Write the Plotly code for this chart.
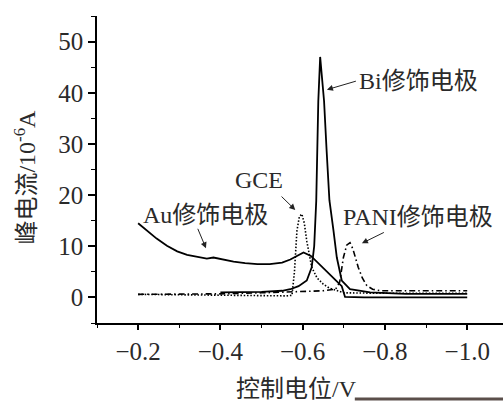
import plotly.graph_objects as go

# ---- data ----
au_x = [-0.2, -0.222, -0.245, -0.27, -0.295, -0.319, -0.345, -0.367, -0.383, -0.4, -0.432,
        -0.46, -0.49, -0.52, -0.55, -0.57, -0.585, -0.602, -0.62, -0.64, -0.66, -0.68,
        -0.695, -0.703, -0.75, -0.85, -1.0]
au_y = [14.5, 13.0, 11.5, 10.1, 9.0, 8.3, 7.9, 7.6, 7.8, 7.5, 7.0,
        6.7, 6.5, 6.5, 6.8, 7.4, 8.1, 8.8, 8.1, 6.6, 4.9, 3.4,
        2.2, 0.1, 0.0, 0.0, 0.0]

bi_x = [-0.4, -0.45, -0.5, -0.55, -0.57, -0.59, -0.61, -0.622, -0.628, -0.633, -0.638,
        -0.6425, -0.647, -0.652, -0.658, -0.665, -0.675, -0.683, -0.695, -0.715, -0.764,
        -0.85, -1.0]
bi_y = [1.0, 1.0, 1.1, 1.3, 1.6, 2.2, 3.3, 5.9, 10.0, 18.9, 38.4,
        47.0, 43.0, 38.4, 29.0, 19.0, 13.0, 7.8, 3.3, 1.6, 1.0,
        0.7, 0.7]

gce_x = [-0.2, -0.3, -0.4, -0.5, -0.56, -0.574, -0.58, -0.586, -0.592, -0.598, -0.604,
         -0.61, -0.616, -0.622, -0.635, -0.65, -0.665, -0.683, -0.7, -0.8, -1.0]
gce_y = [0.6, 0.5, 0.5, 0.4, 0.3, 0.4, 5.0, 13.0, 15.8, 16.3, 14.5,
         11.0, 8.2, 5.9, 3.8, 2.6, 1.8, 1.3, 0.9, 0.8, 0.8]

pani_x = [-0.2, -0.3, -0.4, -0.5, -0.6, -0.65, -0.68, -0.69, -0.699, -0.707, -0.715,
          -0.722, -0.735, -0.745, -0.756, -0.77, -0.79, -0.85, -1.0]
pani_y = [0.6, 0.6, 0.7, 0.9, 1.2, 1.3, 1.6, 3.0, 7.8, 10.2, 10.7,
          9.5, 5.9, 3.8, 2.3, 1.6, 1.3, 1.3, 1.3]

label_text = ["Bi修饰电极", "GCE", "Au修饰电极", "PANI修饰电极"]
label_pos = [(-0.881, 42.2), (-0.494, 23.0), (-0.363, 16.1), (-0.881, 15.8)]
arrow_tail = [(-0.733, 42.35), (-0.545, 20.0), (-0.343, 13.8), (-0.801, 12.84)]
arrow_tip = [(-0.659, 40.6), (-0.582, 17.1), (-0.365, 9.6), (-0.744, 10.58)]

x_ticks = [-0.2, -0.4, -0.6, -0.8, -1.0]
y_ticks = [0, 10, 20, 30, 40, 50]

FONT = "Liberation Serif, Noto Sans CJK SC, serif"
TXT = "#2a2a2a"

fig = go.Figure()
fig.add_trace(go.Scatter(x=au_x, y=au_y, mode="lines", line=dict(color="black", width=1.8)))
fig.add_trace(go.Scatter(x=bi_x, y=bi_y, mode="lines", line=dict(color="black", width=1.8)))
fig.add_trace(go.Scatter(x=gce_x, y=gce_y, mode="lines",
                         line=dict(color="black", width=1.6, dash="1.5px,1.8px")))
fig.add_trace(go.Scatter(x=pani_x, y=pani_y, mode="lines",
                         line=dict(color="black", width=1.6, dash="6px,3px,1.5px,3px")))

ann = []
for t, (lx, ly) in zip(label_text, label_pos):
    ann.append(dict(x=lx, y=ly, xref="x", yref="y", text=t, showarrow=False,
                    font=dict(family=FONT, size=24, color=TXT),
                    xanchor="center", yanchor="middle"))
for (tx, ty), (hx, hy) in zip(arrow_tail, arrow_tip):
    ann.append(dict(x=hx, y=hy, ax=tx, ay=ty, xref="x", yref="y", axref="x", ayref="y",
                    text=" ", font=dict(size=1), showarrow=True, arrowhead=2,
                    arrowsize=1.2, arrowwidth=1,
                    arrowcolor="#222", standoff=0, startstandoff=0))
ann.append(dict(x=-0.177, y=0.474, xref="paper", yref="paper",
                text="峰电流/10<sup>-6</sup>A", textangle=-90, showarrow=False,
                font=dict(family=FONT, size=24, color=TXT),
                xanchor="center", yanchor="middle"))
ann.append(dict(x=0.492, y=-0.215, xref="paper", yref="paper",
                text="控制电位/V", showarrow=False,
                font=dict(family=FONT, size=24, color=TXT),
                xanchor="center", yanchor="middle"))

fig.update_layout(
    width=503, height=402,
    margin=dict(l=97, r=0, t=16, b=79),
    paper_bgcolor="white", plot_bgcolor="white",
    showlegend=False,
    annotations=ann,
    shapes=[dict(type="line", xref="paper", yref="paper", x0=0.635, x1=1.0,
                 y0=-0.2476, y1=-0.2476, line=dict(color="#5b4f4b", width=3))],
    font=dict(family=FONT, size=24, color=TXT),
)
fig.update_xaxes(range=[-0.1, -1.087], tickvals=x_ticks, tickformat=".1f",
                 showgrid=False, zeroline=False, showline=True, linecolor="black",
                 linewidth=1.5, ticks="outside", ticklen=5, tickwidth=1.5, tickcolor="black",
                 tickfont=dict(family=FONT, size=25, color=TXT),
                 minor=dict(dtick=0.1, tick0=-0.1, ticks="outside", ticklen=3,
                            tickwidth=1.2, tickcolor="black"))
fig.update_yaxes(range=[-5, 55], tickvals=y_ticks,
                 showgrid=False, zeroline=False, showline=True, linecolor="black",
                 linewidth=1.5, ticks="outside", ticklen=7, tickwidth=1.5, tickcolor="black",
                 tickfont=dict(family=FONT, size=25, color=TXT),
                 minor=dict(dtick=5, tick0=-5, ticks="outside", ticklen=4,
                            tickwidth=1.2, tickcolor="black"))

fig.write_html("out.html")
